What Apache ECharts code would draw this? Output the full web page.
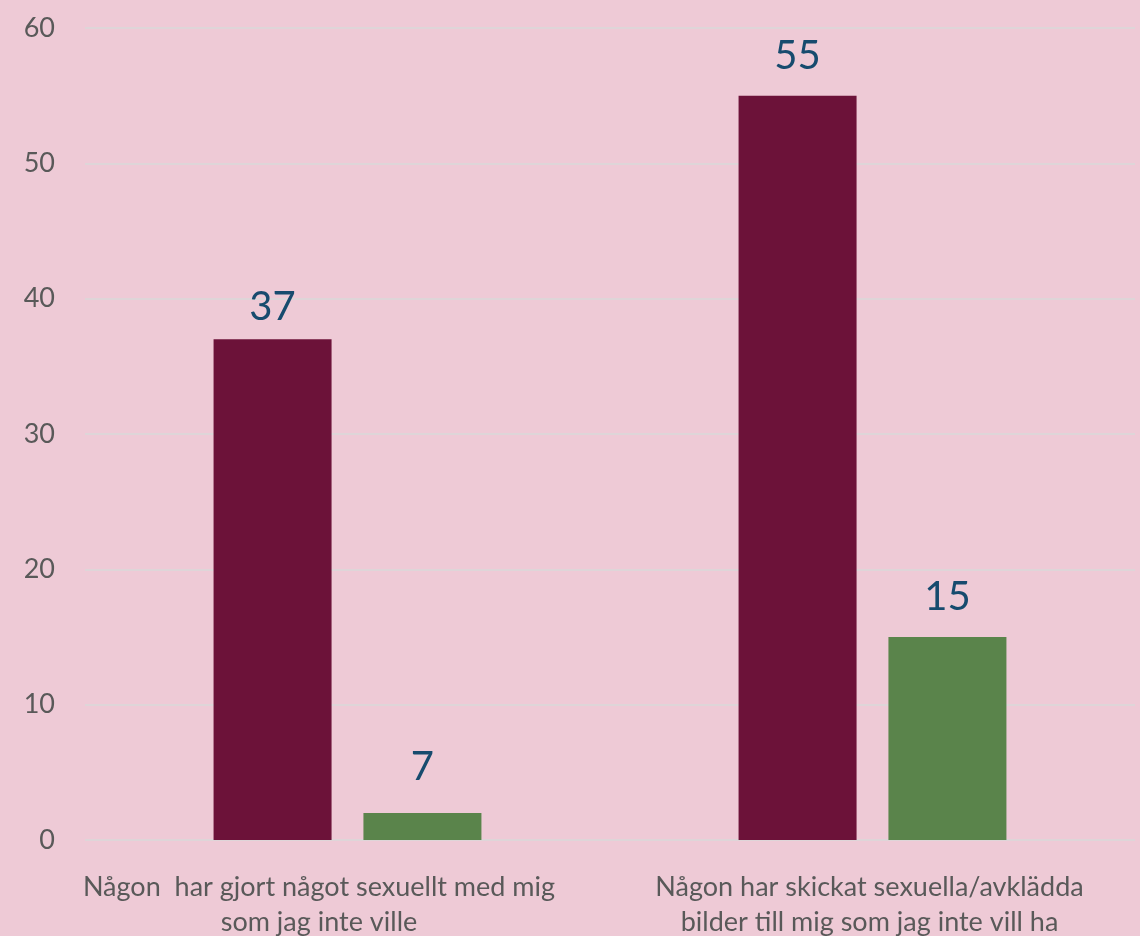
<!DOCTYPE html>
<html>
<head>
<meta charset="utf-8">
<script src="https://cdn.jsdelivr.net/npm/echarts@6/dist/echarts.min.js"></script>
<style>
html,body{margin:0;padding:0;background:#EECAD6;}
#chart{width:1140px;height:936px;}
</style>
</head>
<body>
<div id="chart"></div>
<script>
var categories = ["Någon  har gjort något sexuellt med mig\nsom jag inte ville", "Någon har skickat sexuella/avklädda\nbilder till mig som jag inte vill ha"];
var seriesA = [37, 55];
var seriesB = [2, 15];
var labelsA = ["37", "55"];
var labelsB = ["7", "15"];
var yTicks = [0, 10, 20, 30, 40, 50, 60];

var FONT = "Lato, 'Open Sans', sans-serif";
var chart = echarts.init(document.getElementById('chart'), null, {renderer: 'canvas'});

var catPadRight = [57, 6];

function mk(vals, labels, distances) {
  return vals.map(function (v, i) {
    return {
      value: v,
      label: {formatter: labels[i], distance: distances[i]}
    };
  });
}

chart.setOption({
  backgroundColor: '#EECAD6',
  animation: false,
  grid: {left: 85, right: 5, top: 28, bottom: 96, containLabel: false, outerBoundsMode: 'none'},
  xAxis: {
    type: 'category',
    data: categories.map(function (c, i) {
      return {value: c, textStyle: {padding: [0, catPadRight[i], 0, 0]}};
    }),
    axisLine: {show: false},
    axisTick: {show: false},
    axisLabel: {
      color: '#595959',
      fontFamily: FONT,
      fontSize: 27,
      lineHeight: 35,
      margin: 30,
      interval: 0
    }
  },
  yAxis: {
    type: 'value',
    min: yTicks[0],
    max: yTicks[yTicks.length - 1],
    interval: 10,
    axisLine: {show: false},
    axisTick: {show: false},
    axisLabel: {color: '#595959', fontFamily: FONT, fontSize: 27, margin: 30},
    splitLine: {lineStyle: {color: '#D9D9D9', width: 1.5}}
  },
  series: [
    {
      type: 'bar',
      data: mk(seriesA, labelsA, [12, 20]),
      itemStyle: {color: '#6C1239'},
      barWidth: 118,
      barGap: '27%',
      label: {show: true, position: 'top', color: '#174B6E', fontFamily: FONT, fontSize: 40}
    },
    {
      type: 'bar',
      data: mk(seriesB, labelsB, [26, 20]),
      itemStyle: {color: '#5A844B'},
      barWidth: 118,
      barGap: '27%',
      label: {show: true, position: 'top', color: '#174B6E', fontFamily: FONT, fontSize: 40}
    }
  ]
});
</script>
</body>
</html>
